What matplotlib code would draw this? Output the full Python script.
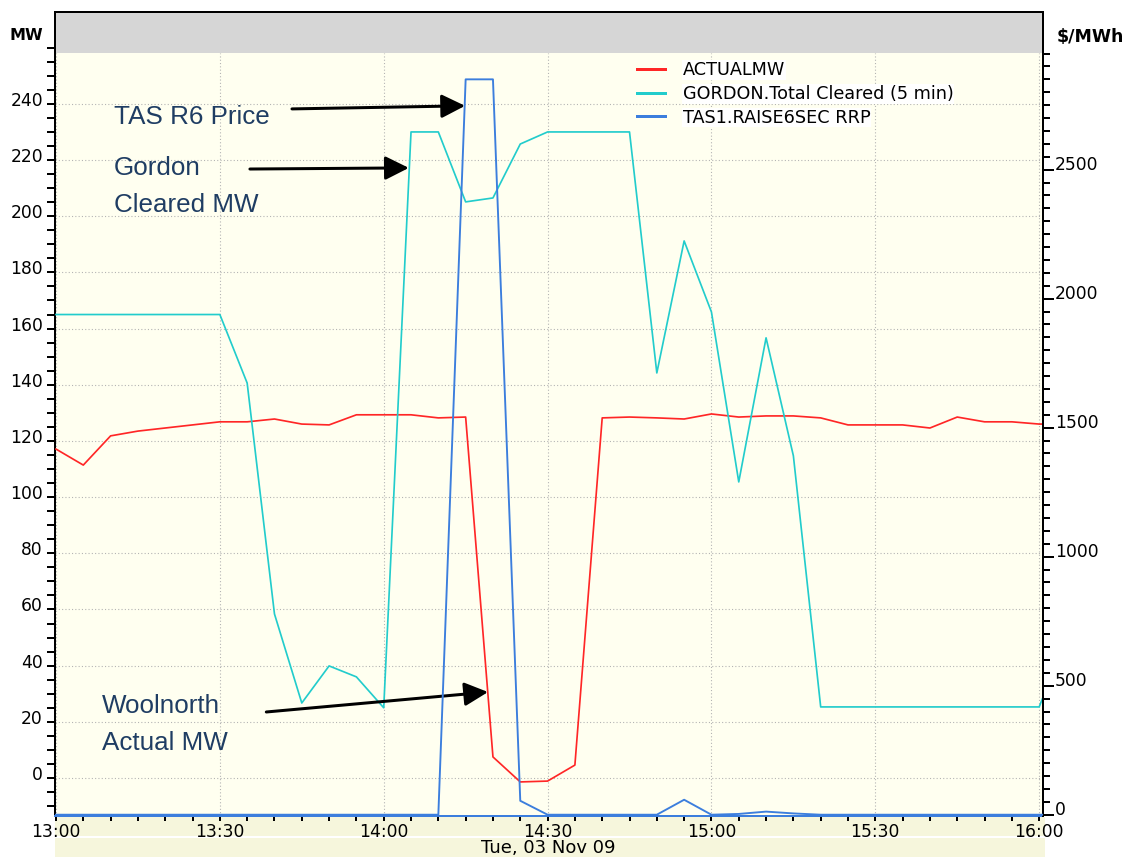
import matplotlib
matplotlib.use("Agg")
import matplotlib.pyplot as plt
import numpy as np
from matplotlib.patches import Rectangle
from matplotlib.transforms import ScaledTranslation

# ---------------- data ----------------
times = ["13:00", "13:05", "13:10", "13:15", "13:20", "13:25", "13:30", "13:35", "13:40", "13:45",
         "13:50", "13:55", "14:00", "14:05", "14:10", "14:15", "14:20", "14:25", "14:30", "14:35",
         "14:40", "14:45", "14:50", "14:55", "15:00", "15:05", "15:10", "15:15", "15:20", "15:25",
         "15:30", "15:35", "15:40", "15:45", "15:50", "15:55", "16:00", "16:05"]

actual_mw = [117.1, 111.4, 121.8, 123.5, 124.6, 125.7, 126.8, 126.8, 127.8, 126.0,
             125.7, 129.3, 129.3, 129.3, 128.2, 128.5, 7.5, -1.4, -1.1, 4.6,
             128.2, 128.5, 128.2, 127.8, 129.6, 128.5, 128.9, 128.9, 128.2, 125.7,
             125.7, 125.7, 124.6, 128.5, 126.8, 126.8, 126.0, 126.0]

gordon_mw = [165.0, 165.0, 165.0, 165.0, 165.0, 165.0, 165.0, 140.6, 58.4, 26.7,
             39.9, 36.0, 25.0, 230.0, 230.0, 205.1, 206.5, 225.7, 230.0, 230.0,
             230.0, 230.0, 144.2, 191.2, 165.9, 105.4, 156.7, 114.7, 25.3, 25.3,
             25.3, 25.3, 25.3, 25.3, 25.3, 25.3, 25.3, 50.0]

raise6_rrp = [0, 0, 0, 0, 0, 0, 0, 0, 0, 0,
              0, 0, 0, 0, 0, 2850, 2850, 54, 0, 0,
              0, 0, 0, 58, 0, 3, 12, 5, 0, 0,
              0, 0, 0, 0, 0, 0, 0, 0]

series_names = ["ACTUALMW", "GORDON.Total Cleared (5 min)", "TAS1.RAISE6SEC RRP"]
x_tick_labels = ["13:00", "13:30", "14:00", "14:30", "15:00", "15:30", "16:00"]
left_ticks = list(range(0, 241, 20))
right_ticks = list(range(0, 2501, 500))
date_label = "Tue, 03 Nov 09"


def to_min(t):
    h, m = t.split(":")
    return (int(h) - 13) * 60 + int(m)


x = np.array([to_min(t) for t in times])
xt = [to_min(t) for t in x_tick_labels]

W, H = 1130, 857
PT = 0.72  # points per pixel at 100 dpi
fig = plt.figure(figsize=(W / 100, H / 100), dpi=100)
fig.patch.set_facecolor("white")

ax = fig.add_axes([55 / W, 1 - 816 / H, (1043 - 55) / W, (816 - 12) / H])
ax.set_facecolor("#FFFFF0")
ax.set_xlim(-0.18, 180.7)
y_bot, y_top_cream, y_top = -13.53, 258.1, 272.7
ax.set_ylim(y_bot, y_top)
ax.axhspan(y_top_cream, y_top, color="#D6D6D6", zorder=0.5, lw=0)

# grid (dotted) only in the cream area
ax.vlines(xt, y_bot, y_top_cream, colors="#B4B4B4", linestyles=(0, (1, 2)), lw=1.1 * PT, zorder=1)
ax.hlines(left_ticks, -0.18, 180.7, colors="#B4B4B4", linestyles=(0, (1, 2)), lw=1.1 * PT, zorder=1)

red = "#FF2626"
cyan = "#22CCCC"
blue = "#3C7EDD"

l1, = ax.plot(x, actual_mw, color=red, lw=1.7 * PT, zorder=3)
l2, = ax.plot(x, gordon_mw, color=cyan, lw=1.7 * PT, zorder=3)

ax2 = ax.twinx()
ax2.set_ylim(-5, 3111)
l3, = ax2.plot(x, raise6_rrp, color=blue, lw=1.9 * PT, zorder=3)

# spines
for s in ["left", "top"]:
    ax.spines[s].set_color("black")
    ax.spines[s].set_linewidth(2 * PT)
ax.spines["right"].set_visible(False)
ax.spines["bottom"].set_color(blue)
ax.spines["bottom"].set_linewidth(2 * PT)
for s in ["left", "top", "bottom"]:
    ax2.spines[s].set_visible(False)
ax2.spines["right"].set_color("black")
ax2.spines["right"].set_linewidth(2 * PT)

FS = 12.3
# ticks
ax.set_xticks(xt)
ax.set_xticklabels(x_tick_labels)
ax.set_xticks(np.arange(0, 181, 5), minor=True)
ax.tick_params(axis="x", which="both", direction="out", length=5 * PT, width=2 * PT, pad=2 * PT,
               labelsize=FS, colors="black")

ax.set_yticks(left_ticks)
ax.set_yticks(np.arange(-10, 261, 5), minor=True)
ax.tick_params(axis="y", which="both", direction="out", length=8 * PT, width=2 * PT, pad=4 * PT,
               labelsize=FS)

ax2.set_yticks(right_ticks)
ax2.set_yticks(np.arange(0, 2951, 50), minor=True)
ax2.tick_params(axis="y", which="major", direction="out", length=11 * PT, width=2 * PT, pad=1 * PT,
                labelsize=FS)
ax2.tick_params(axis="y", which="minor", direction="out", length=7 * PT, width=2 * PT)

for lab in ax.get_yticklabels():
    lab.set_transform(lab.get_transform() + ScaledTranslation(0, 0.05, fig.dpi_scale_trans))
for lab in ax2.get_yticklabels():
    lab.set_transform(lab.get_transform() + ScaledTranslation(0, 0.07, fig.dpi_scale_trans))

# axis unit labels
fig.text(26 / W, 1 - 36 / H, "MW", ha="center", va="center", fontsize=11.5, weight="bold")
fig.text(1090 / W, 1 - 37 / H, "$/MWh", ha="center", va="center", fontsize=12.5, weight="bold")

# bottom bands
fig.patches.append(Rectangle((55 / W, 1 - 836 / H), (1045 - 55) / W, (836 - 817) / H,
                             transform=fig.transFigure, facecolor="#F6F6DC", edgecolor="none", zorder=-1))
fig.patches.append(Rectangle((55 / W, 0), (1045 - 55) / W, (857 - 838) / H,
                             transform=fig.transFigure, facecolor="#F6F6DC", edgecolor="none", zorder=-1))
fig.text(548 / W, 1 - 848 / H, date_label, ha="center", va="center", fontsize=13)

# legend
leg = ax.legend([l1, l2, l3], series_names, loc="upper left",
                bbox_to_anchor=(637 / W, 1 - 61 / H), bbox_transform=fig.transFigure,
                frameon=False, fontsize=12.7, handlelength=1.6, handletextpad=1.0,
                labelspacing=0.33, borderpad=0, borderaxespad=0)
for ln in leg.get_lines():
    ln.set_linewidth(3 * PT)
for t in leg.get_texts():
    t.set_bbox(dict(facecolor="white", edgecolor="none", pad=0.5))
leg.set_zorder(5)

# annotations
tcol = "#1F3D63"
tfont = dict(family="Liberation Sans", fontsize=18.7, color=tcol, va="baseline", ha="left")
ax.text(10.6, 232.9, "TAS R6 Price", **tfont)
ax.text(10.6, 214.7, "Gordon", **tfont)
ax.text(10.6, 201.5, "Cleared MW", **tfont)
ax.text(8.4, 23.1, "Woolnorth", **tfont)
ax.text(8.4, 9.9, "Actual MW", **tfont)

aprops = dict(arrowstyle="-|>,head_length=0.8,head_width=0.4", mutation_scale=18,
              lw=3 * PT, color="black", shrinkA=0, shrinkB=0)
ax.annotate("", xy=(74.9, 239.3), xytext=(43.2, 238.2), arrowprops=aprops, zorder=6)
ax.annotate("", xy=(64.6, 217.2), xytext=(35.5, 216.8), arrowprops=aprops, zorder=6)
ax.annotate("", xy=(79.1, 30.6), xytext=(38.5, 23.5), arrowprops=aprops, zorder=6)

fig.savefig("out.png", dpi=100)
